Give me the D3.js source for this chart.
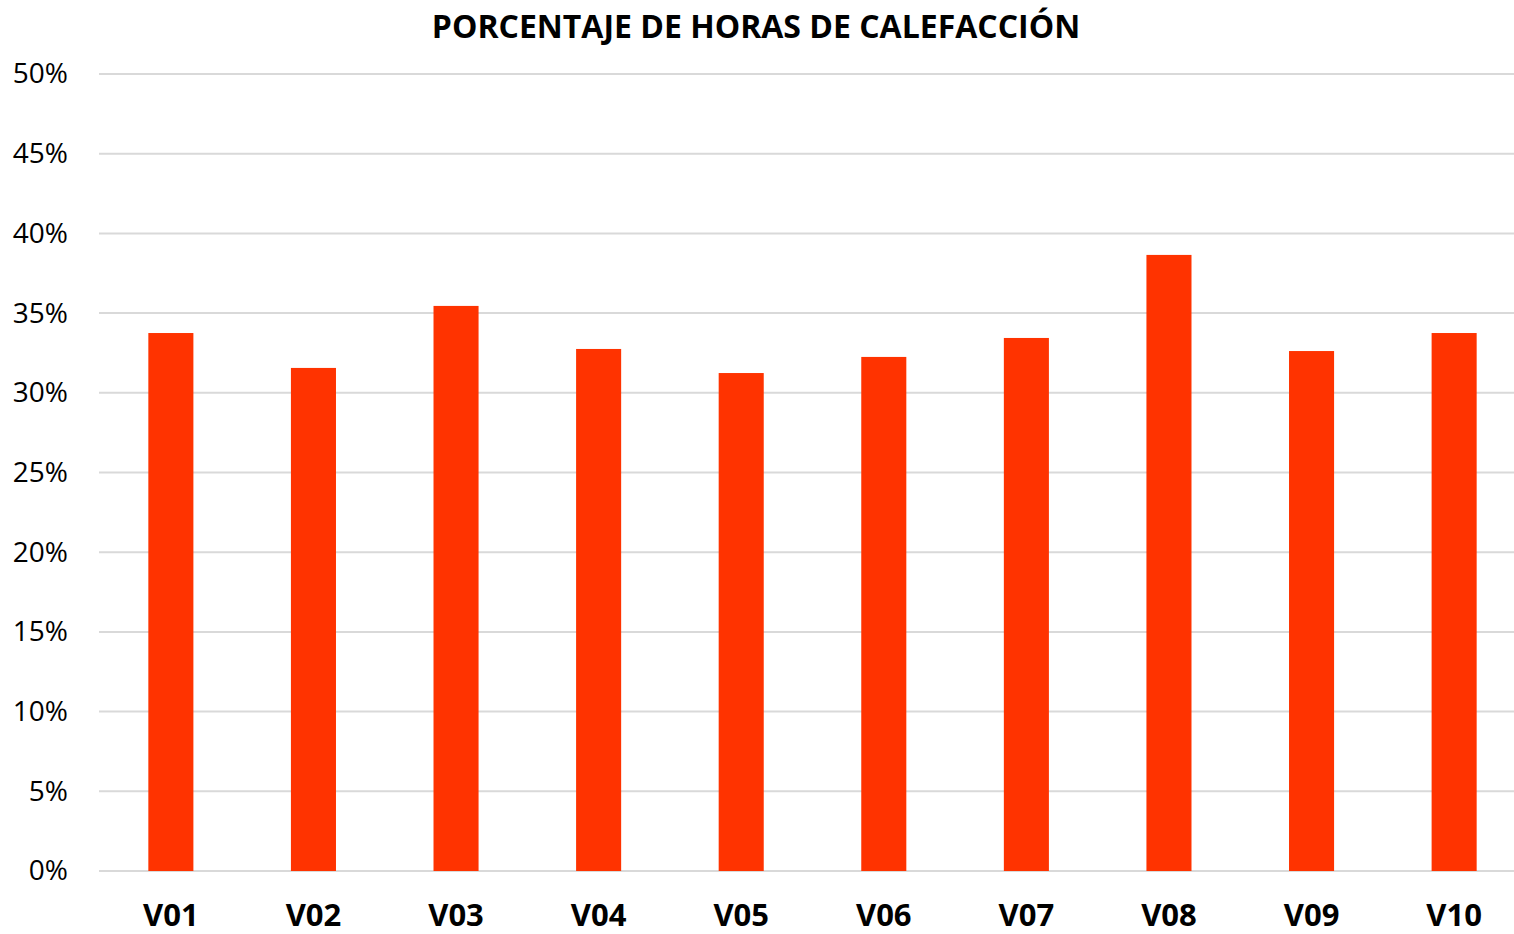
<!DOCTYPE html>
<html lang="en">
  <head>
    <meta charset="utf-8" />
    <script src="https://d3js.org/d3.v7.min.js" charset="utf-8"></script>
    <style>
      body {
        margin: 0;
        background: #fff;
        font-family: 'Open Sans', 'Noto Sans', sans-serif;
        overflow: hidden;
      }
      .grid line {
        stroke: #d9d9d9;
        stroke-width: 2;
      }
      .axis path,
      .axis line {
        display: none;
      }
    </style>
  </head>
  <body>
    <div id="chart"></div>
    <script>
      // data //------------------------------------------------------
      var categories = ['V01', 'V02', 'V03', 'V04', 'V05', 'V06', 'V07', 'V08', 'V09', 'V10'];
      var values = [0.3375, 0.3156, 0.3545, 0.3275, 0.3124, 0.3225, 0.3344, 0.3865, 0.3262, 0.3375];
      var y_ticks = [0, 0.05, 0.1, 0.15, 0.2, 0.25, 0.3, 0.35, 0.4, 0.45, 0.5];
      var chart_title = 'PORCENTAJE DE HORAS DE CALEFACCIÓN';

      // dimensions //------------------------------------------------
      // the plot area runs a bit past the right edge of the window
      var W = 1514, H = 934;
      var margin = { top: 74, left: 99 };
      var width = 1427;
      var height = 871 - margin.top;

      var svg = d3.select('#chart')
        .append('svg')
        .attr('width', W)
        .attr('height', H)
        .style('display', 'block');

      var plot = svg.append('g')
        .attr('transform', `translate(${margin.left},${margin.top})`);

      // scales
      var x = d3.scaleBand()
        .domain(categories)
        .range([0, width])
        .paddingInner(0.684)
        .paddingOuter(0.346);

      var y = d3.scaleLinear().domain([0, 0.5]).range([height, 0]);

      // gridlines
      plot.append('g')
        .attr('class', 'grid')
        .selectAll('line')
        .data(y_ticks)
        .join('line')
        .attr('x1', 0)
        .attr('x2', W - margin.left)
        .attr('y1', d => y(d))
        .attr('y2', d => y(d));

      // bars
      plot.append('g')
        .selectAll('rect')
        .data(values)
        .join('rect')
        .attr('x', (d, i) => x(categories[i]))
        .attr('y', d => y(d))
        .attr('width', x.bandwidth())
        .attr('height', d => height - y(d))
        .attr('fill', '#ff3300');

      // y axis
      plot.append('g')
        .attr('class', 'axis')
        .attr('transform', 'translate(-28,0)')
        .call(d3.axisLeft(y).tickValues(y_ticks).tickFormat(d3.format('.0%')).tickSize(0))
        .selectAll('text')
        .attr('font-family', "'Open Sans', sans-serif")
        .attr('font-size', 28)
        .attr('fill', '#000');

      // x axis
      plot.append('g')
        .attr('class', 'axis')
        .attr('transform', `translate(0,${height})`)
        .call(d3.axisBottom(x).tickSize(0))
        .selectAll('text')
        .attr('y', 55)
        .attr('dy', null)
        .attr('font-family', "'Open Sans', sans-serif")
        .attr('font-size', 31)
        .attr('font-weight', 'bold')
        .attr('fill', '#000');

      // title
      svg.append('text')
        .attr('x', 756)
        .attr('y', 38)
        .attr('text-anchor', 'middle')
        .attr('font-family', "'Open Sans', sans-serif")
        .attr('font-size', 32)
        .attr('font-weight', 'bold')
        .attr('fill', '#000')
        .text(chart_title);
    </script>
  </body>
</html>
